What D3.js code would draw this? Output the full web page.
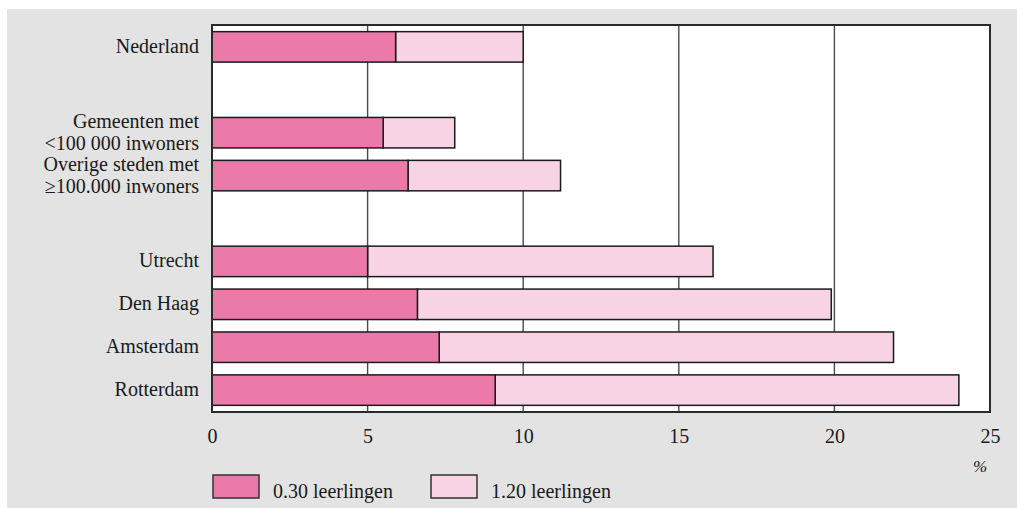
<!DOCTYPE html>
<html>
<head>
<meta charset="utf-8">
<script src="https://cdn.jsdelivr.net/npm/d3@7"></script>
<style>
  html, body { margin: 0; padding: 0; background: #ffffff; }
  svg { display: block; }
  text { font-family: "Liberation Serif", "DejaVu Serif", serif; fill: #1a1a1a; }
</style>
</head>
<body>
<svg id="chart" width="1017" height="508"></svg>
<script>
// ---- data ----
const rowKeys   = ["Nederland", "gap1", "Gemeenten", "Overige", "gap2", "Utrecht", "Den Haag", "Amsterdam", "Rotterdam"];
const rowLabels = [["Nederland"], [], ["Gemeenten met", "<100 000 inwoners"], ["Overige steden met", "≥100.000 inwoners"], [], ["Utrecht"], ["Den Haag"], ["Amsterdam"], ["Rotterdam"]];
const series30  = [5.9, null, 5.5, 6.3, null, 5.0, 6.6, 7.3, 9.1];   // 0.30 leerlingen
const series120 = [10.0, null, 7.8, 11.2, null, 16.1, 19.9, 21.9, 24.0]; // 1.20 leerlingen (cumulative end)
const xTicks    = [0, 5, 10, 15, 20, 25];
const legendLabels = ["0.30 leerlingen", "1.20 leerlingen"];
const colors = ["#ec7aa9", "#f7d3e3"];

// ---- layout ----
const FS = 20;
const svg = d3.select("#chart");
const plot = { left: 212, right: 990, top: 25, bottom: 412 };

svg.append("rect").attr("x", 7).attr("y", 9).attr("width", 1010).attr("height", 499).attr("fill", "#e2e3e2");

const x = d3.scaleLinear().domain([0, 25]).range([plot.left, plot.right]);
const y = d3.scaleBand().domain(rowKeys).range([plot.top, plot.bottom]).paddingInner(0.29).paddingOuter(0.155);

// plot background
svg.append("rect").attr("x", plot.left).attr("y", plot.top)
  .attr("width", plot.right - plot.left).attr("height", plot.bottom - plot.top)
  .attr("fill", "#ffffff");

// grid lines
svg.append("g").selectAll("line").data(xTicks.slice(1, -1)).join("line")
  .attr("x1", d => x(d)).attr("x2", d => x(d))
  .attr("y1", plot.top).attr("y2", plot.bottom)
  .attr("stroke", "#4a4a4a").attr("stroke-width", 1.4);

// bars
const rows = rowKeys.map((k, i) => ({ k, i, a: series30[i], b: series120[i] })).filter(d => d.a !== null);
const g = svg.append("g");
g.selectAll("rect.b").data(rows).join("rect").attr("class", "b")
  .attr("x", d => x(d.a)).attr("y", d => y(d.k))
  .attr("width", d => x(d.b) - x(d.a)).attr("height", y.bandwidth())
  .attr("fill", colors[1]).attr("stroke", "#1a1a1a").attr("stroke-width", 1.5);
g.selectAll("rect.a").data(rows).join("rect").attr("class", "a")
  .attr("x", x(0)).attr("y", d => y(d.k))
  .attr("width", d => x(d.a) - x(0)).attr("height", y.bandwidth())
  .attr("fill", colors[0]).attr("stroke", "#1a1a1a").attr("stroke-width", 1.5);

// plot border
svg.append("rect").attr("x", plot.left).attr("y", plot.top)
  .attr("width", plot.right - plot.left).attr("height", plot.bottom - plot.top)
  .attr("fill", "none").attr("stroke", "#2a2a2a").attr("stroke-width", 2);

// y labels
const lh = 22;
rowKeys.forEach((k, i) => {
  const lines = rowLabels[i];
  if (!lines.length) return;
  const cy = y(k) + y.bandwidth() / 2;
  const t = svg.append("text").attr("text-anchor", "end").attr("font-size", FS);
  lines.forEach((ln, j) => {
    t.append("tspan").attr("x", 199)
      .attr("y", cy + 6 + (j - (lines.length - 1) / 2) * lh)
      .text(ln);
  });
});

// x axis
const xAxis = d3.axisBottom(x).tickValues(xTicks).tickSize(0).tickPadding(0).tickFormat(d3.format("d"));
const ax = svg.append("g").attr("transform", `translate(0, 443)`).call(xAxis);
ax.select(".domain").remove();
ax.selectAll("text").attr("font-size", FS).attr("dy", 0).attr("fill", "#1a1a1a")
  .attr("font-family", "Liberation Serif, DejaVu Serif, serif");

svg.append("text").attr("x", 980).attr("y", 472).attr("text-anchor", "middle")
  .attr("font-size", 17).attr("font-style", "italic").text("%");

// legend
const legX = [213, 431];
legendLabels.forEach((lab, i) => {
  svg.append("rect").attr("x", legX[i]).attr("y", 475).attr("width", 46).attr("height", 23)
    .attr("fill", colors[i]).attr("stroke", "#333").attr("stroke-width", 1.5);
  svg.append("text").attr("x", legX[i] + 60).attr("y", 498).attr("font-size", FS).text(lab);
});
</script>
</body>
</html>
